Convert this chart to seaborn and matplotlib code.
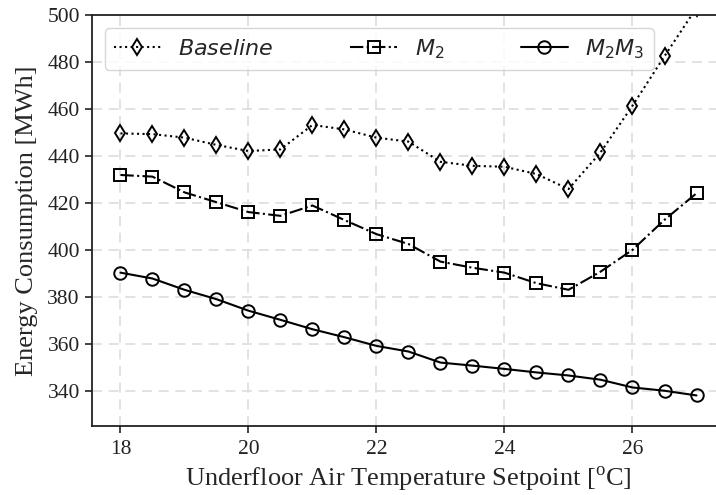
import matplotlib
matplotlib.use("Agg")
import matplotlib.pyplot as plt
import seaborn as sns
import pandas as pd

setpoints = [18.0, 18.5, 19.0, 19.5, 20.0, 20.5, 21.0, 21.5, 22.0, 22.5,
             23.0, 23.5, 24.0, 24.5, 25.0, 25.5, 26.0, 26.5, 27.0]
baseline = [449.5, 449.2, 447.7, 444.6, 442.0, 442.7, 453.1, 451.2, 447.7, 446.0,
            437.4, 435.7, 435.3, 432.2, 425.8, 441.4, 461.3, 482.4, 503.0]
m2 = [431.8, 431.1, 424.4, 420.2, 416.0, 414.4, 418.8, 412.6, 406.6, 402.4,
      394.9, 392.3, 390.2, 385.7, 382.9, 390.6, 399.9, 412.7, 424.0]
m2m3 = [390.2, 387.7, 382.9, 378.9, 374.0, 370.1, 366.1, 362.7, 359.0, 356.6,
        351.9, 350.6, 349.2, 347.7, 346.4, 344.6, 341.3, 339.9, 337.9]
series_labels = ["$Baseline$", "$M_2$", "$M_2M_3$"]
x_ticks = [18, 20, 22, 24, 26]
y_ticks = [340, 360, 380, 400, 420, 440, 460, 480, 500]

sns.set_style("whitegrid")
plt.rcParams.update({
    "font.family": ["Liberation Serif", "DejaVu Serif"],
    "mathtext.fontset": "custom",
    "mathtext.rm": "DejaVu Sans",
    "mathtext.it": "DejaVu Sans:italic",
    "mathtext.sf": "Liberation Serif",
    "axes.edgecolor": "#222222",
    "axes.linewidth": 1.3,
    "grid.color": "#dddddd",
    "grid.linestyle": (0, (6, 4)),
    "grid.linewidth": 1.2,
    "xtick.bottom": True,
    "ytick.left": True,
    "xtick.color": "#222222",
    "ytick.color": "#222222",
    "xtick.major.size": 5,
    "ytick.major.size": 5,
    "xtick.major.width": 1.2,
    "ytick.major.width": 1.2,
})

fig = plt.figure(figsize=(7.16, 4.95), dpi=100)
ax = fig.add_axes([0.128, 0.139, 0.885, 0.831])

df = pd.DataFrame({"x": setpoints, "Baseline": baseline, "M2": m2, "M2M3": m2m3})

styles = [
    ("Baseline", ":", "d", 8),
    ("M2", "-.", "s", 9),
    ("M2M3", "-", "o", 9),
]
for (col, ls, mk, ms), lab in zip(styles, series_labels):
    sns.lineplot(data=df, x="x", y=col, ax=ax, color="black", linestyle=ls,
                 linewidth=1.5, marker=mk, markersize=ms,
                 markerfacecolor="none", markeredgecolor="black",
                 markeredgewidth=1.4, label=lab)

ax.set_xlim(17.55, 27.45)
ax.set_ylim(324.8, 500)
ax.set_xticks(x_ticks)
ax.set_yticks(y_ticks)
ax.tick_params(labelsize=15.5)
ax.tick_params(axis="x", pad=5)
ax.set_xlabel(r"Underfloor Air Temperature Setpoint [$^{\mathsf{o}}$C]", fontsize=19)
ax.set_ylabel("Energy Consumption [MWh]", fontsize=19, labelpad=7)

leg = ax.legend(loc="upper left", ncol=3, fontsize=16, framealpha=0.8,
                handlelength=2.1, columnspacing=3.45, borderaxespad=0.6)

fig.savefig("out.png", dpi=100)
